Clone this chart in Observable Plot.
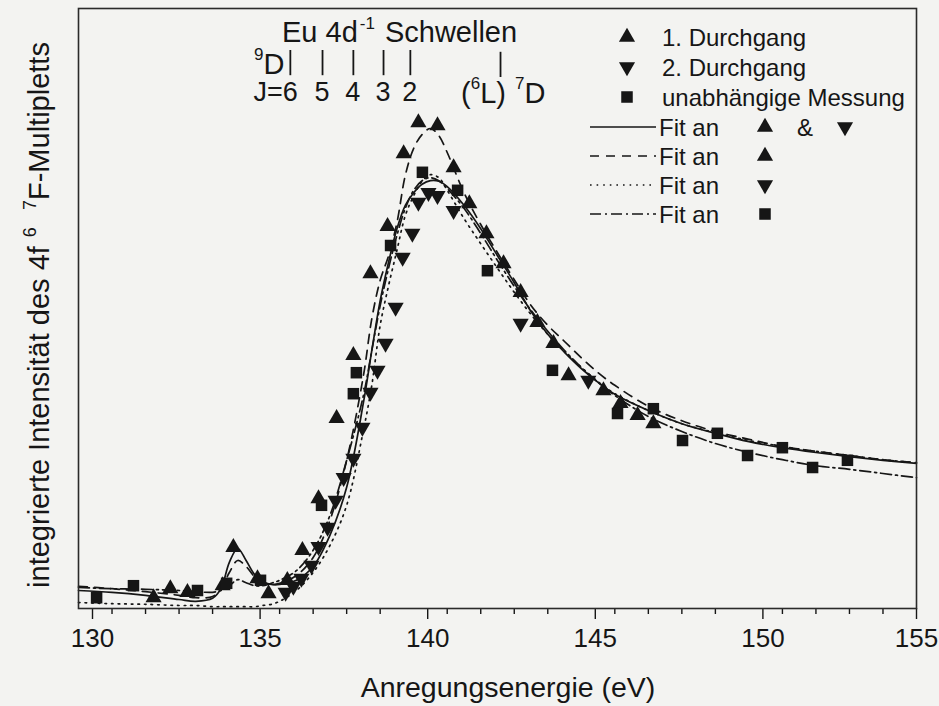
<!DOCTYPE html>
<html><head><meta charset="utf-8">
<script src="https://cdn.jsdelivr.net/npm/d3@7"></script>
<script src="https://cdn.jsdelivr.net/npm/@observablehq/plot@0.6"></script>
<style>
body{margin:0;background:#f3f3f1;}
svg{font-family:"Liberation Sans",Arial,Helvetica,sans-serif;}
</style>
</head><body><div id="chart"></div>
<script>
// ---------- data (energy in eV, intensity in arbitrary units) ----------
const pass1E = [132.24,132.74,133.25,134.30,134.62,135.34,135.67,136.23,136.68,137.16,137.70,138.20,138.71,139.22,139.70,140.14,140.71,141.19,141.66,142.17,142.68,143.19,143.69,144.17,144.62,145.66,146.17,146.68,147.15];
const pass1I = [1.8,3.3,2.7,3.8,10.2,5.0,2.5,4.7,9.7,18.3,31.7,42.2,55.8,63.7,75.8,81.0,80.5,73.5,67.5,62.5,57.5,52.7,47.7,44.2,38.8,36.3,34.2,32.2,30.8];

const pass2E = [136.18,136.41,136.65,136.95,137.16,137.43,137.67,137.91,138.20,138.47,138.71,138.92,139.16,139.46,139.67,139.96,140.14,140.44,140.71,141.19,143.19,145.21];
const pass2I = [2.7,3.7,5.0,7.2,10.3,13.5,18.0,21.8,25.0,30.2,36.0,39.7,44.2,50.2,58.5,62.5,67.7,69.3,68.8,66.3,47.5,38.0];

const indepE = [130.54,131.64,133.55,134.42,135.43,137.25,138.20,138.29,139.31,140.26,141.31,142.20,144.14,146.08,147.15,148.02,149.06,149.96,151.00,151.90,152.94];
const indepI = [1.8,3.8,3.0,4.2,4.7,17.2,35.8,39.3,60.5,72.7,69.7,56.3,39.7,32.5,33.3,28.0,29.2,25.5,26.8,23.5,24.7];

const fitE = [130,131,132,133,133.5,134,134.25,134.5,134.75,135,135.25,135.5,135.75,136,136.5,137,137.5,138,138.5,138.75,139,139.25,139.5,139.75,140,140.25,140.5,140.75,141,141.5,142,142.5,143,143.5,144,144.5,145,145.5,146,147,148,149,150,151,152,153,154,155];
const fitBoth = [3.0,2.7,2.2,1.5,1.2,1.7,3.3,7.7,10.0,8.0,5.7,4.5,4.0,4.0,4.7,7.0,12.2,20.2,34.3,43.0,51.3,57.7,63.3,67.2,69.3,70.7,71.3,71.2,70.3,67.2,63.3,58.8,54.3,49.5,45.7,42.7,40.0,37.7,35.7,33.0,30.8,29.2,27.8,26.8,26.0,25.3,24.7,24.2];
const fitPass1 = [3.7,3.3,2.8,2.2,1.8,2.0,3.2,6.0,8.0,7.0,5.3,4.3,4.0,4.2,5.5,8.5,14.7,24.7,38.8,48.3,54.7,58.8,64.3,72.2,76.7,79.0,80.0,78.8,76.0,69.3,64.0,59.3,54.8,50.5,47.2,44.5,41.8,39.3,37.2,33.7,31.3,29.5,28.2,27.0,26.2,25.5,24.8,24.3];
const fitPass2 = [1.0,0.8,0.7,0.5,0.5,0.3,0.3,0.3,0.3,0.3,0.3,0.5,0.7,1.2,3.0,6.0,10.5,17.2,29.7,37.2,47.2,53.8,59.7,65.5,68.8,71.2,72.3,71.8,69.7,65.0,60.8,56.7,52.7,49.0,45.7,42.8,40.2,37.8,35.8,33.0,30.8,29.3,28.0,27.0,26.2,25.5,24.8,24.3];
const fitIndep = [3.5,3.3,3.2,3.0,2.8,2.7,3.0,3.8,4.8,4.3,3.8,3.8,4.2,4.7,6.3,9.7,15.5,24.7,35.5,43.0,50.5,56.7,62.2,66.7,69.7,71.3,71.8,71.3,70.0,66.7,62.5,58.0,53.7,49.7,46.2,43.0,40.2,37.7,35.5,32.0,29.5,27.5,26.0,24.8,23.8,23.2,22.5,21.8];

// Eu 4d^-1 thresholds (9D, J = 6..2) and (6L) 7D
const thresh9DE = [136.32,137.28,138.20,139.10,139.90];
const thresh9DJ = ["6","5","4","3","2"];
const thresh7DE = [142.59];

const majorTicks = [130,135,140,145,150];
const lastTick = [155];
const minorTicks = [131,132,133,134,136,137,138,139,141,142,143,144,146,147,148,149,151,152,153,154];

// ---------- build tables ----------
const zipPts = (E, I) => E.map((e, i) => ({e, v: I[i]}));
const p1 = zipPts(pass1E, pass1I);
const p2 = zipPts(pass2E, pass2I);
const pq = zipPts(indepE, indepI);
const fits = [
  {vals: fitBoth, dash: null},
  {vals: fitPass1, dash: "9,7"},
  {vals: fitPass2, dash: "1.6,5"},
  {vals: fitIndep, dash: "11,4,2,4"}
];
const INK = "#161616";

const lineMarks = fits.map(f => Plot.line(zipPts(fitE, f.vals), {
  x: "e", y: "v", curve: "catmull-rom", stroke: INK, strokeWidth: 1.7,
  strokeDasharray: f.dash ?? undefined
}));

const chart = Plot.plot({
  width: 939, height: 706,
  marginLeft: 78, marginRight: 23, marginTop: 8, marginBottom: 98,
  style: {background: "transparent", color: INK, fontFamily: "Liberation Sans, Arial, sans-serif"},
  x: {domain: [130, 155], label: null},
  y: {domain: [0, 100], axis: null},
  marks: [
    ...lineMarks,
    Plot.dot(p1, {x: "e", y: "v", symbol: "triangle", r: 6, fill: INK, stroke: "none"}),
    Plot.dot(p2, {x: "e", y: "v", symbol: "triangle", r: 6, rotate: 180, fill: INK, stroke: "none"}),
    Plot.dot(pq, {x: "e", y: "v", symbol: "square", r: 6.5, fill: INK, stroke: "none"}),
    Plot.ruleX(thresh9DE, {y1: 88.8, y2: 93, stroke: INK, strokeWidth: 1.8}),
    Plot.ruleX(thresh7DE, {y1: 88.5, y2: 92.7, stroke: INK, strokeWidth: 1.8}),
    Plot.axisX({ticks: minorTicks, tickSize: 6, tickFormat: () => "", stroke: INK, strokeWidth: 1.4}),
    Plot.axisX({ticks: majorTicks, tickSize: 11, tickPadding: 9, fontSize: 26, dx: 14, tickFormat: d3.format("d"), stroke: INK, strokeWidth: 1.4, label: null}),
    Plot.axisX({ticks: lastTick, tickSize: 11, tickPadding: 9, fontSize: 26, dx: 0, tickFormat: d3.format("d"), stroke: INK, strokeWidth: 1.4, label: null}),
    Plot.frame({stroke: "#2a2a2a", strokeWidth: 1.6})
  ]
});

document.getElementById("chart").appendChild(chart);

// ---------- text annotations / legend ----------
const svg = d3.select(chart);
const g = svg.append("g").attr("fill", INK).attr("text-anchor", "start");
const xs = chart.scale("x");

function richText(x, y, parts, opts = {}) {
  const t = g.append("text").attr("x", x).attr("y", y).attr("font-size", opts.size || 26)
    .attr("text-anchor", opts.anchor || "start");
  if (opts.transform) t.attr("transform", opts.transform);
  let shift = 0;
  for (const p of parts) {
    const s = t.append("tspan").text(p.t);
    const target = p.sup ? -(opts.supShift || 11) : 0;
    if (target !== shift) { s.attr("dy", target - shift); shift = target; }
    if (p.sup) s.attr("font-size", opts.supSize || 16);
    if (p.dx) s.attr("dx", p.dx);
  }
  return t;
}

// y-axis title
richText(0, 0, [
  {t: "integrierte Intensität des 4f"}, {t: "6", sup: true, dx: 9}, {t: " "}, {t: "7", sup: true, dx: 9}, {t: "F-Multipletts"}
], {size: 29, anchor: "middle", transform: "translate(49,315) rotate(-90)", supShift: 13, supSize: 18});

// x-axis title
richText(508, 697, [{t: "Anregungsenergie (eV)"}], {size: 28.5, anchor: "middle"});

// Threshold header
richText(282, 42, [{t: "Eu 4d"}, {t: "-1", sup: true, dx: 2}, {t: "Schwellen", dx: 10}], {size: 29, supShift: 13, supSize: 17});
richText(254, 74, [{t: "9", sup: true}, {t: "D"}], {size: 29, supShift: 14, supSize: 17});
g.append("text").attr("x", xs.apply(thresh9DE[0]) + 8).attr("y", 101).attr("font-size", 27).attr("text-anchor", "end").text("J=6");
thresh9DE.slice(1).forEach((e, i) => {
  g.append("text").attr("x", xs.apply(e)).attr("y", 101).attr("font-size", 27).attr("text-anchor", "middle").text(thresh9DJ[i + 1]);
});
richText(461, 103, [{t: "("}, {t: "6", sup: true}, {t: "L)"}, {t: "7", sup: true, dx: 9}, {t: "D"}], {size: 29, supShift: 14, supSize: 17});

// legend
const leg = g.append("g");
const rowY = [37, 67, 97, 127, 156, 185, 214];
const sym = (x, y, kind) => {
  const p = d3.symbol(kind === "sq" ? d3.symbolSquare : d3.symbolTriangle, kind === "sq" ? Math.PI * 6.5 * 6.5 : Math.PI * 36)();
  leg.append("path").attr("d", p).attr("fill", INK)
    .attr("transform", `translate(${x},${y})` + (kind === "down" ? " rotate(180)" : ""));
};
const labs = ["1. Durchgang", "2. Durchgang", "unabhängige Messung"];
["up", "down", "sq"].forEach((k, i) => {
  sym(627, rowY[i], k);
  leg.append("text").attr("x", 662).attr("y", rowY[i] + 8.5).attr("font-size", 24).attr("text-anchor", "start").text(labs[i]);
});
const dashes = [null, "9,7", "1.6,5", "11,4,2,4"];
const fitSyms = [["up", "&", "down"], ["up"], ["down"], ["sq"]];
dashes.forEach((d, i) => {
  const y = rowY[3 + i];
  const l = leg.append("line").attr("x1", 590).attr("x2", 656).attr("y1", y).attr("y2", y)
    .attr("stroke", INK).attr("stroke-width", 1.7);
  if (d) l.attr("stroke-dasharray", d);
  leg.append("text").attr("x", 659).attr("y", y + 8.5).attr("font-size", 24).attr("text-anchor", "start").text("Fit an");
  const s = fitSyms[i];
  sym(765, y, s[0]);
  if (s.length > 1) {
    leg.append("text").attr("x", 805).attr("y", y + 8.5).attr("font-size", 24).attr("text-anchor", "middle").text(s[1]);
    sym(845, y, s[2]);
  }
});
</script>
</body></html>
